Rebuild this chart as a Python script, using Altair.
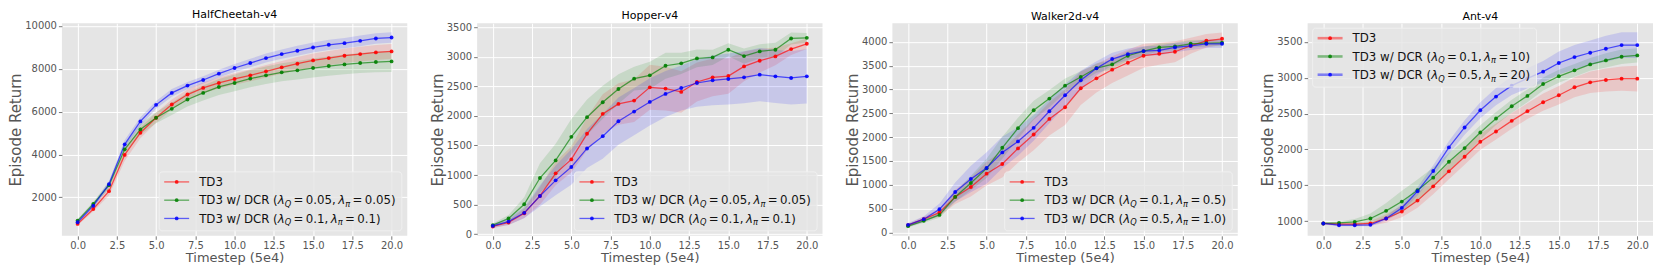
import altair as alt
import pandas as pd

# ---------------- data ----------------
steps = list(range(21))

hc_td3_mean = [760, 1455, 2290, 3980, 5015, 5712, 6330, 6796, 7105, 7337, 7523, 7694, 7880, 8065, 8235, 8390, 8498, 8607, 8684, 8762, 8808]
hc_td3_std = [60, 120, 200, 280, 260, 230, 230, 240, 250, 260, 270, 280, 290, 300, 310, 320, 330, 340, 345, 350, 350]
hc_dcr1_mean = [914, 1690, 2570, 4240, 5170, 5712, 6130, 6563, 6873, 7150, 7337, 7540, 7694, 7833, 7926, 8034, 8127, 8204, 8266, 8313, 8344]
hc_dcr1_std = [60, 100, 160, 220, 250, 260, 290, 320, 350, 370, 390, 400, 410, 420, 430, 440, 450, 460, 470, 480, 490]
hc_dcr2_mean = [836, 1610, 2616, 4474, 5542, 6316, 6873, 7213, 7477, 7771, 8034, 8266, 8498, 8684, 8839, 8994, 9118, 9195, 9303, 9412, 9458]
hc_dcr2_std = [60, 100, 150, 200, 200, 180, 180, 170, 170, 180, 190, 200, 210, 220, 230, 230, 240, 240, 250, 250, 250]

hop_td3_mean = [130, 197, 354, 646, 1028, 1264, 1697, 2034, 2202, 2258, 2483, 2461, 2405, 2573, 2652, 2674, 2837, 2933, 3006, 3129, 3219]
hop_td3_std = [30, 40, 80, 150, 200, 220, 280, 330, 350, 360, 380, 370, 350, 330, 320, 300, 250, 200, 150, 100, 90]
hop_dcr1_mean = [152, 264, 506, 949, 1247, 1646, 1978, 2230, 2455, 2629, 2685, 2848, 2888, 2972, 2989, 3118, 3011, 3090, 3118, 3309, 3320]
hop_dcr1_std = [30, 60, 120, 250, 280, 300, 300, 280, 250, 200, 230, 220, 180, 150, 130, 110, 130, 120, 120, 100, 80]
hop_dcr2_mean = [140, 213, 360, 646, 910, 1135, 1449, 1657, 1910, 2073, 2236, 2371, 2472, 2556, 2601, 2624, 2652, 2697, 2669, 2641, 2669]
hop_dcr2_std = [30, 60, 90, 180, 250, 300, 330, 380, 400, 400, 400, 390, 380, 400, 420, 430, 440, 450, 450, 450, 460]

wal_td3_mean = [153, 279, 418, 746, 955, 1234, 1436, 1763, 2056, 2383, 2627, 3025, 3234, 3415, 3561, 3708, 3749, 3791, 3917, 4021, 4063]
wal_td3_std = [30, 50, 80, 150, 200, 250, 280, 300, 330, 350, 370, 350, 300, 280, 270, 250, 230, 220, 170, 140, 130]
wal_dcr1_mean = [132, 244, 369, 746, 1038, 1345, 1777, 2188, 2565, 2809, 3080, 3261, 3450, 3526, 3708, 3805, 3882, 3903, 3958, 3972, 3979]
wal_dcr1_std = [30, 40, 60, 100, 150, 200, 230, 220, 200, 180, 150, 120, 100, 100, 100, 90, 80, 80, 80, 70, 70]
wal_dcr2_mean = [160, 279, 488, 850, 1122, 1352, 1680, 1910, 2195, 2544, 2878, 3192, 3443, 3638, 3742, 3805, 3819, 3882, 3917, 3958, 3958]
wal_dcr2_std = [40, 60, 120, 200, 280, 330, 330, 300, 270, 250, 230, 200, 150, 130, 120, 100, 100, 100, 90, 90, 90]

ant_td3_mean = [968, 958, 958, 968, 1037, 1134, 1287, 1486, 1695, 1898, 2107, 2250, 2398, 2533, 2658, 2755, 2866, 2935, 2968, 2986, 2986]
ant_td3_std = [15, 20, 20, 30, 60, 80, 100, 110, 110, 110, 110, 110, 110, 110, 120, 130, 140, 150, 160, 170, 180]
ant_dcr1_mean = [968, 977, 991, 1037, 1144, 1273, 1431, 1607, 1829, 2019, 2236, 2431, 2602, 2746, 2912, 3019, 3102, 3185, 3241, 3292, 3310]
ant_dcr1_std = [15, 20, 40, 70, 110, 150, 150, 140, 120, 110, 100, 90, 90, 90, 90, 90, 90, 90, 100, 100, 100]
ant_dcr2_mean = [968, 944, 944, 949, 1037, 1185, 1417, 1699, 2028, 2306, 2546, 2736, 2889, 2991, 3084, 3204, 3287, 3347, 3403, 3454, 3454]
ant_dcr2_std = [15, 15, 15, 20, 30, 50, 60, 80, 90, 100, 110, 120, 130, 140, 150, 160, 170, 170, 180, 180, 180]

env_titles = ["HalfCheetah-v4", "Hopper-v4", "Walker2d-v4", "Ant-v4"]
y_domains = [[205, 10125], [-28, 3567], [-70, 4390], [796, 3759]]
y_ticks = [[2000, 4000, 6000, 8000, 10000],
           [0, 500, 1000, 1500, 2000, 2500, 3000, 3500],
           [0, 500, 1000, 1500, 2000, 2500, 3000, 3500, 4000],
           [1000, 1500, 2000, 2500, 3000, 3500]]
x_ticks = [0, 2.5, 5, 7.5, 10, 12.5, 15, 17.5, 20]
lam_q = [["0.05", "0.1"], ["0.05", "0.1"], ["0.1", "0.5"], ["0.1", "0.5"]]
lam_pi = [["0.05", "0.1"], ["0.05", "0.1"], ["0.5", "1.0"], ["10", "20"]]
legend_corner = ["lower right", "lower right", "lower right", "upper left"]

series_names = ["TD3", "DCR1", "DCR2"]
series_colors = ["#ff0000", "#008000", "#0000ff"]

panel_data = [
    [(hc_td3_mean, hc_td3_std), (hc_dcr1_mean, hc_dcr1_std), (hc_dcr2_mean, hc_dcr2_std)],
    [(hop_td3_mean, hop_td3_std), (hop_dcr1_mean, hop_dcr1_std), (hop_dcr2_mean, hop_dcr2_std)],
    [(wal_td3_mean, wal_td3_std), (wal_dcr1_mean, wal_dcr1_std), (wal_dcr2_mean, wal_dcr2_std)],
    [(ant_td3_mean, ant_td3_std), (ant_dcr1_mean, ant_dcr1_std), (ant_dcr2_mean, ant_dcr2_std)],
]

# ---------------- layout / style ----------------
PW, PH = 346, 213
FONT = "DejaVu Sans"
LEG_FS = 11.8
EM = {' ': 0.318, '(': 0.390, ')': 0.390, ',': 0.318, '.': 0.318, '/': 0.337,
      '=': 0.838, 'C': 0.698, 'D': 0.770, 'R': 0.695, 'T': 0.611, 'w': 0.818,
      'λ': 0.592, 'π': 0.602, 'Q': 0.787}
for d in "0123456789":
    EM[d] = 0.636


def label_tokens(q, p):
    if q is None:
        return [("TD3", "rm")]
    return [("TD3 w/ DCR (", "rm"), ("λ", "it"), ("Q", "sub"), (0.2, "gap"), ("=", "rm"),
            (0.2, "gap"), (q, "rm"), (",", "rm"), (0.2, "gap"), ("λ", "it"), ("π", "sub"),
            (0.2, "gap"), ("=", "rm"), (0.2, "gap"), (p, "rm"), (")", "rm")]


def layout_tokens(tokens, f):
    x = 0.0
    pieces = []
    for txt, kind in tokens:
        if kind == "gap":
            x += txt * f
            continue
        s = 0.7 if kind == "sub" else 1.0
        pieces.append((x, txt, kind))
        x += sum(EM[c] for c in txt) * f * s
    return pieces, x


xscale = alt.Scale(domain=[-1, 21], nice=False, zero=False)
cscale = alt.Scale(domain=series_names, range=series_colors)


def make_panel(i):
    rows = []
    for name, (m, s) in zip(series_names, panel_data[i]):
        for t, mv, sv in zip(steps, m, s):
            rows.append({"t": t, "mean": mv, "lo": mv - sv, "hi": mv + sv, "series": name})
    df = pd.DataFrame(rows)
    yscale = alt.Scale(domain=y_domains[i], nice=False, zero=False)
    xaxis = alt.Axis(values=x_ticks, format=".1f", title="Timestep (5e4)")
    yaxis = alt.Axis(values=y_ticks[i], format="d", title="Episode Return")
    X = alt.X("t:Q", scale=xscale, axis=xaxis)
    col = alt.Color("series:N", scale=cscale, legend=None)

    band = alt.Chart(df).mark_area(opacity=0.13).encode(
        x=X, y=alt.Y("lo:Q", scale=yscale, axis=yaxis), y2="hi:Q", color=col)
    line = alt.Chart(df).mark_line(strokeWidth=1.25, opacity=0.65).encode(
        x=X, y=alt.Y("mean:Q", scale=yscale, axis=yaxis), color=col)
    pts = alt.Chart(df).mark_circle(size=15, opacity=0.9).encode(
        x=X, y=alt.Y("mean:Q", scale=yscale, axis=yaxis), color=col)

    # ---- legend (drawn by hand so the math sub-scripts can be shown) ----
    labels = [label_tokens(None, None)] + [label_tokens(lam_q[i][k], lam_pi[i][k]) for k in range(2)]
    laid = [layout_tokens(tk, LEG_FS) for tk in labels]
    text_w = max(w for _, w in laid)
    box_w = 40 + text_w + 6.3
    box_h = 59
    if legend_corner[i] == "lower right":
        bx2 = PW - 5.5
        bx1 = bx2 - box_w
        by2 = PH - 5
        by1 = by2 - box_h
    else:
        bx1 = 5
        bx2 = bx1 + box_w
        by1 = 5
        by2 = by1 + box_h
    entry_y = [by1 + 10, by1 + 28.3, by1 + 46.6]

    box_df = pd.DataFrame([{"x1": bx1, "x2": bx2, "y1": by1, "y2": by2}])
    handle_df = pd.DataFrame([{"x1": bx1 + 5, "x2": bx1 + 30, "xm": bx1 + 17.5, "y": ey, "col": c}
                              for ey, c in zip(entry_y, series_colors)])
    txt_rows = []
    for (pieces, _), ey in zip(laid, entry_y):
        base_y = ey + 0.3645 * LEG_FS
        for px, txt, kind in pieces:
            txt_rows.append({"px": bx1 + 40 + px, "py": base_y + (2.6 if kind == "sub" else 0),
                             "txt": txt, "kind": kind})
    txt_df = pd.DataFrame(txt_rows)

    big_leg = legend_corner[i] == "upper left"
    box = alt.Chart(box_df).mark_rect(cornerRadius=3, fill="#e5e5e5", fillOpacity=0.8,
                                      stroke="#f0f0f0", strokeWidth=1).encode(
        x=alt.X("x1:Q", scale=None), x2="x2:Q", y=alt.Y("y1:Q", scale=None), y2="y2:Q")
    hrule = alt.Chart(handle_df).mark_rule(strokeWidth=2.6 if big_leg else 1.3,
                                           opacity=0.45 if big_leg else 0.6).encode(
        x=alt.X("x1:Q", scale=None), x2="x2:Q", y=alt.Y("y:Q", scale=None),
        color=alt.Color("col:N", scale=None))
    hdot = alt.Chart(handle_df).mark_circle(size=14, opacity=0.85).encode(
        x=alt.X("xm:Q", scale=None), y=alt.Y("y:Q", scale=None),
        color=alt.Color("col:N", scale=None))

    def text_layer(kind, **kw):
        return alt.Chart(txt_df).transform_filter(alt.datum.kind == kind).mark_text(
            font=FONT, align="left", baseline="alphabetic", color="#111111", **kw).encode(
            x=alt.X("px:Q", scale=None), y=alt.Y("py:Q", scale=None), text="txt:N")

    t_rm = text_layer("rm", fontSize=LEG_FS)
    t_it = text_layer("it", fontSize=LEG_FS, fontStyle="italic")
    t_sub = text_layer("sub", fontSize=LEG_FS * 0.7, fontStyle="italic")

    return alt.layer(band, line, pts, box, hrule, hdot, t_rm, t_it, t_sub).properties(
        width=PW, height=PH,
        title=alt.TitleParams(env_titles[i], font=FONT, fontSize=11, fontWeight="normal",
                              color="#000000", offset=1, anchor="middle"))


chart = alt.hconcat(*[make_panel(i) for i in range(4)], spacing=70, bounds="flush").properties(
    padding={"left": 0, "top": 0, "right": 0, "bottom": 0}
).configure_view(fill="#e5e5e5", strokeWidth=0).configure_axis(
    domain=False, grid=True, gridColor="#ffffff", gridWidth=1,
    tickColor="#555555", tickSize=3.5, tickWidth=0.8,
    labelColor="#555555", labelFont=FONT, labelFontSize=10,
    titleFont=FONT, titleColor="#555555", titleFontWeight="normal"
).configure_axisX(labelPadding=1.5, titlePadding=1.2, titleFontSize=13
).configure_axisY(labelPadding=2, titlePadding=1, titleFontSize=15)

chart.save("out.html", embed_options={"renderer": "svg", "actions": False})
